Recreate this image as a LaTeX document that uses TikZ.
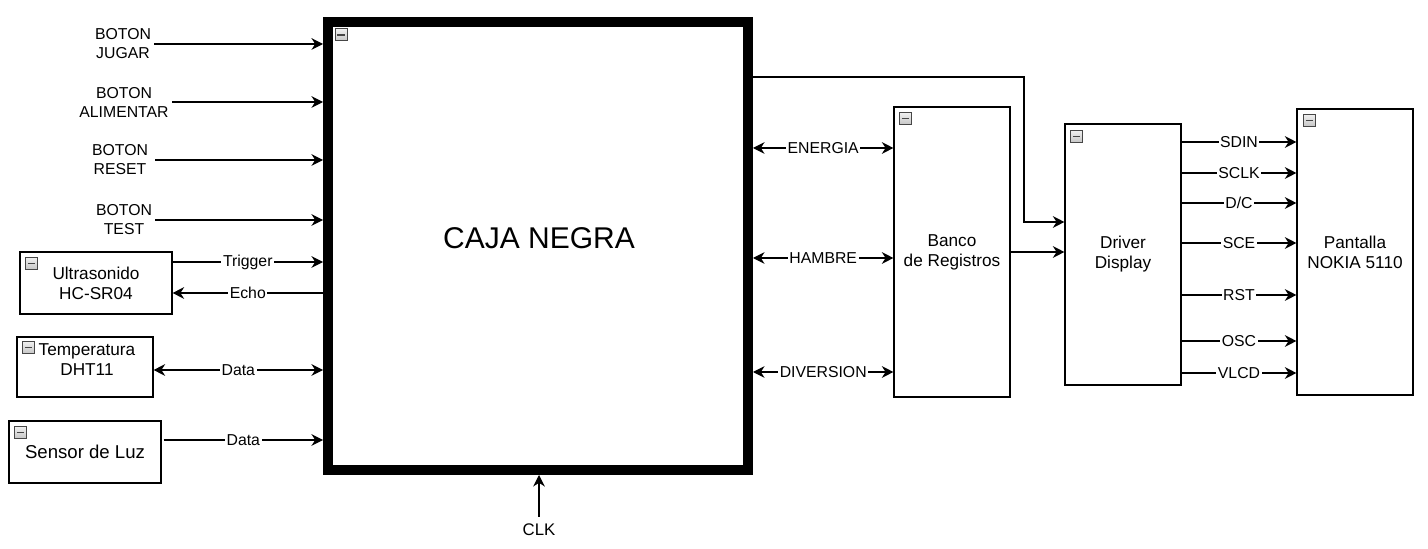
\documentclass[tikz,border=0pt]{standalone}
\usepackage{fontspec}
\setmainfont{Liberation Sans}
\usetikzlibrary{arrows.meta,calc}
\begin{document}
\begin{tikzpicture}[x=0.5pt,y=-0.5pt,
  every node/.style={font=\fontsize{7.9pt}{9.5pt}\selectfont, inner sep=1.5pt, align=center},
  box/.style={draw, line width=0.6pt, inner sep=0pt},
  btxt/.style={font=\fontsize{8.6pt}{10pt}\selectfont},
  tip/.tip={Stealth[length=5.8pt,width=5.9pt,inset=1.9pt]},
  arr/.style={line width=0.65pt, -tip},
  barr/.style={line width=0.65pt, tip-tip},
  lbl/.style={fill=white, inner sep=0.8pt},
  mini/.style={draw=gray!55!black, top color=gray!12, bottom color=gray!45, line width=0.5pt, minimum size=6pt, inner sep=0pt,
    path picture={\draw[line width=0.75pt] ([xshift=-1.8pt]path picture bounding box.center) -- ([xshift=1.8pt]path picture bounding box.center);}}
]
\useasboundingbox (0,0) rectangle (1428,549);

% button labels
\node (bj) at (123,44) {BOTON\\JUGAR};
\node (ba) at (124,102) {BOTON\\ALIMENTAR};
\node (br) at (120,160) {BOTON\\RESET};
\node (bt) at (124,220) {BOTON\\TEST};

% sensor boxes
\node[box, btxt, minimum width=76pt, minimum height=31pt] (us) at (96,283) {Ultrasonido\\HC-SR04};
\node[box, minimum width=68pt, minimum height=30pt] (tp) at (85,367) {};
\node[btxt] (tpt) at (87,360) {Temperatura\\DHT11};
\node[box, minimum width=76pt, minimum height=31pt, font=\fontsize{9.3pt}{11pt}\selectfont] (sl) at (85,452) {Sensor de Luz};

% black box
\node[draw, line width=5pt, minimum width=210pt, minimum height=224pt, inner sep=0pt] (cn) at (538,246) {};
\node[font=\fontsize{15pt}{18pt}\selectfont] (cnt) at (539,238) {CAJA NEGRA};

% right boxes
\node[box, btxt, minimum width=58pt, minimum height=145pt] (bk) at (952,252) {Banco\\de Registros};
\node[box, btxt, minimum width=58pt, minimum height=130.5pt] (dd) at (1123,254.5) {Driver\\Display};
\node[box, btxt, minimum width=58pt, minimum height=143pt] (pn) at (1355,252) {Pantalla\\NOKIA 5110};

% collapse icons
\node[mini] (m1) at ($(cn.north west)+(18,18)$) {};
\node[mini] (m2) at ($(us.north west)+(12,12)$) {};
\node[mini] (m3) at ($(tp.north west)+(12,11)$) {};
\node[mini] (m4) at ($(sl.north west)+(12,12)$) {};
\node[mini] (m5) at ($(bk.north west)+(12,12)$) {};
\node[mini] (m6) at ($(dd.north west)+(12,13)$) {};
\node[mini] (m7) at ($(pn.north west)+(13,12)$) {};

% left inputs
\draw[arr] (bj.east) -- (bj.east -| cn.west);
\draw[arr] (ba.east) -- (ba.east -| cn.west);
\draw[arr] ($(br.east)+(4,0)$) -- (br.east -| cn.west);
\draw[arr] (bt.east) -- (bt.east -| cn.west);

\draw[arr] (us.east |- 0,262) -- node[lbl]{Trigger} (cn.west |- 0,262);
\draw[arr] (cn.west |- 0,293) -- node[lbl]{Echo} (us.east |- 0,293);
\draw[barr] (tp.east |- 0,370) -- node[lbl]{Data} (cn.west |- 0,370);
\draw[arr] ($(sl.east |- 0,440)+(2,0)$) -- node[lbl]{Data} (cn.west |- 0,440);

% right side
\draw[arr] (cn.east |- 0,77) -- (1024,77) -- (1024,222) -- (dd.west |- 0,222);
\draw[barr] (cn.east |- 0,148) -- node[lbl]{ENERGIA} (bk.west |- 0,148);
\draw[barr] (cn.east |- 0,258) -- node[lbl]{HAMBRE} (bk.west |- 0,258);
\draw[barr] (cn.east |- 0,372) -- node[lbl]{DIVERSION} (bk.west |- 0,372);
\draw[arr] (bk.east |- 0,252) -- (dd.west |- 0,252);

\foreach \yy/\tt in {142/SDIN,173/SCLK,203/{D/C},243/SCE,295/RST,341/OSC,373/VLCD}
  \draw[arr] (dd.east |- 0,\yy) -- node[lbl]{\tt} (pn.west |- 0,\yy);

% clock
\node[font=\fontsize{8.4pt}{10pt}\selectfont] (clk) at (539,530) {CLK};
\draw[arr] ($(clk.north)+(0,-4)$) -- (clk.north |- cn.south);
\end{tikzpicture}
\end{document}
